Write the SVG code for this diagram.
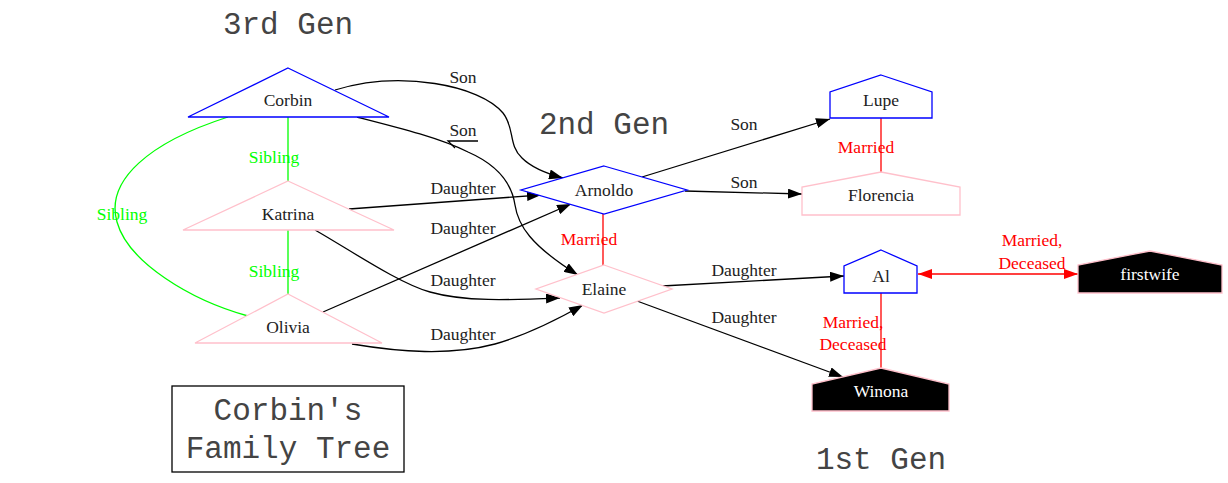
<svg xmlns="http://www.w3.org/2000/svg" width="1228" height="483" viewBox="0 0 1228 483">
<defs>
<marker id="ah" markerUnits="userSpaceOnUse" markerWidth="14" markerHeight="10" refX="14" refY="5" orient="auto"><path d="M0,0 L14,5 L0,10 z" fill="#000"/></marker>
<marker id="ahr" markerUnits="userSpaceOnUse" markerWidth="14" markerHeight="10" refX="14" refY="5" orient="auto-start-reverse"><path d="M0,0 L14,5 L0,10 z" fill="#f00"/></marker>
</defs>
<style>
text{font-family:"Liberation Serif","Times New Roman",serif;font-size:17.5px;text-anchor:middle}
.n{fill:#222}
.w{fill:#fff}
.g{fill:#0f0}
.r{fill:#f00}
.k{fill:#222}
.cl{font-family:"Liberation Mono","Courier New",monospace;font-size:31px;fill:#444}
.m{fill:#fff;stroke:#00f;stroke-width:1.3}
.f{fill:#fff;stroke:#ffc0cb;stroke-width:1.3}
.d{fill:#000;stroke:#ffc0cb;stroke-width:1.3}
.e{fill:none;stroke:#000;stroke-width:1.3}
.eg{fill:none;stroke:#0f0;stroke-width:1.3}
.er{fill:none;stroke:#f00;stroke-width:1.3}
</style>
<rect width="1228" height="483" fill="#fff"/>
<g id="clusters">
<text class="cl" x="288" y="34">3rd Gen</text>
<text class="cl" x="604" y="134">2nd Gen</text>
<text class="cl" x="881" y="469">1st Gen</text>
</g>
<g id="connectors">
<line class="eg" x1="288" y1="117" x2="288" y2="181"/>
<text class="g" x="274" y="163">Sibling</text>
<line class="eg" x1="288" y1="230" x2="288" y2="294"/>
<text class="g" x="274" y="277">Sibling</text>
<path class="eg" d="M228,117 C150,142 105,180 117,222 C128,262 190,300 248,316"/>
<text class="g" x="122" y="220">Sibling</text>
<path class="e" marker-end="url(#ah)" d="M335,90 C400,70 480,85 503,113 C515,128 508,145 522,158 C532,168 548,174 563,178"/>
<text class="k" x="463" y="83">Son</text>
<path class="e" marker-end="url(#ah)" d="M357,117 C400,128 440,138 468,152 C500,166 512,185 515,205 C518,225 530,245 578,275"/>
<text class="k" x="463" y="136">Son</text>
<polyline class="e" points="478,141 448,141 455,148"/>
<path class="e" marker-end="url(#ah)" d="M349,209 L541,195"/>
<text class="k" x="463" y="194">Daughter</text>
<path class="e" marker-end="url(#ah)" d="M323,312 L571,204"/>
<text class="k" x="463" y="234">Daughter</text>
<path class="e" marker-end="url(#ah)" d="M315,230 C350,250 400,284 430,292 C465,302 510,300 560,298"/>
<text class="k" x="463" y="286">Daughter</text>
<path class="e" marker-end="url(#ah)" d="M352,344 C400,352 450,356 495,344 C530,334 560,318 583,305"/>
<text class="k" x="463" y="340">Daughter</text>
<line class="er" x1="603" y1="214" x2="603" y2="265"/>
<text class="r" x="589" y="245">Married</text>
<path class="e" marker-end="url(#ah)" d="M642,177 L830,119"/>
<text class="k" x="744" y="130">Son</text>
<path class="e" marker-end="url(#ah)" d="M685,191 L802,194"/>
<text class="k" x="744" y="188">Son</text>
<line class="er" x1="881" y1="118" x2="881" y2="172"/>
<text class="r" x="866" y="153">Married</text>
<path class="e" marker-end="url(#ah)" d="M662,286 L844,276"/>
<text class="k" x="744" y="276">Daughter</text>
<path class="e" marker-end="url(#ah)" d="M637,301 L843,377"/>
<text class="k" x="744" y="323">Daughter</text>
<line class="er" x1="881" y1="293" x2="881" y2="368"/>
<text class="r" x="853" y="328">Married,</text>
<text class="r" x="853" y="350">Deceased</text>
<line class="er" marker-start="url(#ahr)" marker-end="url(#ahr)" x1="918" y1="274" x2="1078" y2="274"/>
<text class="r" x="1032" y="246">Married,</text>
<text class="r" x="1032" y="269">Deceased</text>
</g>
<g id="Corbin"><polygon class="m" points="288,68 389,117 188,117"/><text class="n" x="288" y="106">Corbin</text></g>
<g id="Katrina"><polygon class="f" points="288,181 394,230 183,230"/><text class="n" x="288" y="220">Katrina</text></g>
<g id="Olivia"><polygon class="f" points="288,294 382,343 195,343"/><text class="n" x="288" y="333">Olivia</text></g>
<g id="Arnoldo"><polygon class="m" points="604,166 687,190 604,214 521,190"/><text class="n" x="604" y="196">Arnoldo</text></g>
<g id="Elaine"><polygon class="f" points="604,265 672,289 604,313 536,289"/><text class="n" x="604" y="295">Elaine</text></g>
<g id="Lupe"><polygon class="m" points="881,75 932,92 932,118 830,118 830,92"/><text class="n" x="881" y="106">Lupe</text></g>
<g id="Florencia"><polygon class="f" points="881,172 960,187 960,215 802,215 802,187"/><text class="n" x="881" y="201">Florencia</text></g>
<g id="Al"><polygon class="m" points="881,250 917,266 917,293 844,293 844,266"/><text class="n" x="881" y="282">Al</text></g>
<g id="firstwife"><polygon class="d" points="1150,251 1222,265 1222,293 1078,293 1078,265"/><text class="w" x="1150" y="280">firstwife</text></g>
<g id="Winona"><polygon class="d" points="881,368 949,384 949,411 812,411 812,384"/><text class="w" x="881" y="397">Winona</text></g>
<g id="legend"><rect x="172" y="386" width="232" height="86" fill="#fff" stroke="#000" stroke-width="1.3"/>
<text class="cl" x="288" y="420">Corbin's</text>
<text class="cl" x="288" y="458">Family Tree</text></g>
</svg>
